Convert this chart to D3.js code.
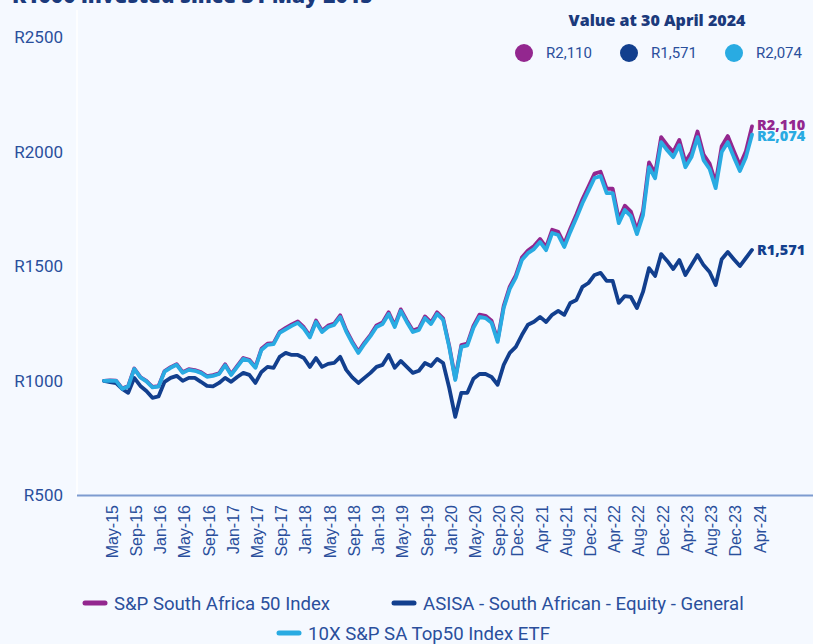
<!DOCTYPE html>
<html><head><meta charset="utf-8">
<script src="https://cdn.jsdelivr.net/npm/d3@7"></script>
<style>
html,body{margin:0;padding:0;background:#f5f9ff;}
svg{display:block;}
</style></head>
<body>
<svg id="chart" width="813" height="644"></svg>
<script>
// ---- data ----
const seriesNames = ["S&P South Africa 50 Index", "ASISA - South African - Equity - General", "10X S&P SA Top50 Index ETF"];
const seriesColors = ["#93278f", "#123f8e", "#29abe2"];
const finalLabels = ["R2,110", "R1,571", "R2,074"];
const startMonth = new Date(2015, 4, 1); // May 2015
const endMonth = new Date(2024, 3, 1);   // Apr 2024
const tickLabels = ["May-15","Sep-15","Jan-16","May-16","Sep-16","Jan-17","May-17","Sep-17","Jan-18","May-18","Sep-18","Jan-19","May-19","Sep-19","Jan-20","May-20","Sep-20","Dec-20","Apr-21","Aug-21","Dec-21","Apr-22","Aug-22","Dec-22","Apr-23","Aug-23","Dec-23","Apr-24"];
const yTicks = [500, 1000, 1500, 2000, 2500];

const sp50 = [1000,1002,1001,967,978,1054,1017,1000,974,977,
1043,1060,1073,1038,1051,1047,1038,1021,1025,1033,
1072,1029,1065,1100,1092,1061,1140,1162,1165,1214,
1231,1246,1259,1234,1196,1263,1219,1241,1250,1286,
1221,1171,1128,1167,1201,1242,1255,1299,1242,1312,
1264,1220,1229,1281,1255,1299,1273,1154,1010,1156,
1163,1240,1289,1284,1262,1178,1327,1411,1460,1538,
1569,1588,1619,1583,1659,1650,1598,1665,1726,1792,
1848,1904,1912,1838,1838,1706,1764,1738,1658,1742,
1953,1905,2063,2028,1998,2051,1955,1999,2088,1987,
1948,1864,2024,2068,2003,1941,2003,2110];

const asisa = [1000,995,990,965,948,1013,978,956,926,932,
996,1013,1022,1000,1013,1013,996,978,976,991,
1013,996,1017,1035,1026,991,1039,1061,1057,1105,
1122,1113,1113,1100,1061,1100,1061,1074,1078,1105,
1048,1015,991,1013,1035,1061,1070,1113,1057,1087,
1061,1035,1044,1078,1065,1096,1078,970,843,948,
948,1009,1030,1030,1017,983,1070,1122,1148,1200,
1245,1258,1279,1257,1288,1305,1288,1340,1353,1410,
1427,1462,1471,1436,1436,1340,1370,1366,1318,1388,
1492,1458,1553,1523,1488,1527,1462,1505,1549,1505,
1475,1418,1531,1562,1531,1501,1536,1571];

const etf = [1000,1001,1000,965,976,1052,1015,998,972,975,
1040,1057,1070,1035,1048,1044,1035,1018,1022,1030,
1068,1026,1061,1096,1088,1057,1135,1157,1160,1209,
1225,1240,1253,1228,1190,1257,1213,1235,1244,1279,
1215,1165,1122,1161,1195,1235,1248,1292,1235,1305,
1257,1213,1222,1274,1248,1292,1266,1148,1004,1148,
1155,1231,1279,1274,1253,1170,1318,1401,1450,1527,
1557,1575,1606,1570,1645,1636,1584,1650,1710,1775,
1830,1885,1893,1819,1819,1688,1745,1719,1640,1723,
1932,1884,2041,2006,1976,2028,1932,1976,2063,1963,
1924,1841,1998,2041,1976,1915,1976,2074];

// ---- build ----
const months = d3.timeMonth.range(startMonth, d3.timeMonth.offset(endMonth, 1));
const fmt = d3.timeFormat("%b-%y");
const cats = months.map(fmt);

const svg = d3.select("#chart");
const W = 813, H = 644;
svg.append("rect").attr("width", W).attr("height", H).attr("fill", "#f5f9ff");

const x = d3.scalePoint().domain(cats).range([104, 752]);
const y = d3.scaleLinear().domain([500, 2500]).range([495.5, 37]);

const darkText = "#1b3a7c";
const axisText = "#2a4f9c";

// Title (partially cut off at top)
svg.append("text").attr("x", 12).attr("y", 3)
  .attr("font-family", "'Open Sans', sans-serif").attr("font-weight", 800)
  .attr("font-size", 21).attr("fill", darkText)
  .text("R1000 invested since 31 May 2015");

// faint plot separator
svg.append("line").attr("x1", 77).attr("x2", 77).attr("y1", 10).attr("y2", 495)
  .attr("stroke", "#ffffff").attr("stroke-width", 1.5);

// Y axis labels
svg.append("g").selectAll("text").data(yTicks).join("text")
  .attr("x", 63).attr("y", d => y(d)).attr("dy", "0.35em")
  .attr("text-anchor", "end")
  .attr("font-family", "Roboto, sans-serif").attr("font-size", 17)
  .attr("fill", axisText)
  .text(d => "R" + d);

// X axis line
svg.append("line").attr("x1", 77).attr("x2", 813).attr("y1", 495.5).attr("y2", 495.5)
  .attr("stroke", "#7d9bd0").attr("stroke-width", 2);

// X tick labels (rotated)
svg.append("g").selectAll("text").data(tickLabels).join("text")
  .attr("transform", d => `translate(${x(d) + 8},505) rotate(-90)`)
  .attr("dy", "0.35em")
  .attr("text-anchor", "end")
  .attr("font-family", "'Liberation Sans', Arial, sans-serif").attr("font-size", 16)
  .attr("fill", axisText)
  .text(d => d);

// Lines
const allSeries = [sp50, asisa, etf];
const line = d3.line().x((d, i) => x(cats[i])).y(d => y(d)).curve(d3.curveLinear);
allSeries.forEach((s, k) => {
  svg.append("path").datum(s)
    .attr("d", line)
    .attr("fill", "none")
    .attr("stroke", seriesColors[k])
    .attr("stroke-width", 3.8)
    .attr("stroke-linejoin", "round")
    .attr("stroke-linecap", "round");
});

// End labels
const endOffsets = [-1, 0, 1];
allSeries.forEach((s, k) => {
  const last = s[s.length - 1];
  svg.append("text")
    .attr("x", x(cats[cats.length - 1]) + 5)
    .attr("y", y(last) + endOffsets[k])
    .attr("dy", "0.35em")
    .attr("font-family", "'Open Sans', sans-serif").attr("font-weight", 800)
    .attr("font-size", 14.5)
    .attr("fill", seriesColors[k])
    .text(finalLabels[k]);
});

// Top-right value legend
svg.append("text").attr("x", 657).attr("y", 20).attr("dy", "0.35em")
  .attr("text-anchor", "middle")
  .attr("font-family", "'Open Sans', sans-serif").attr("font-weight", 800)
  .attr("font-size", 16).attr("fill", darkText)
  .text("Value at 30 April 2024");
const valX = [524, 629, 734];
const vg = svg.append("g");
finalLabels.forEach((t, k) => {
  vg.append("circle").attr("cx", valX[k]).attr("cy", 53).attr("r", 9).attr("fill", seriesColors[k]);
  vg.append("text").attr("x", valX[k] + 22).attr("y", 53).attr("dy", "0.35em")
    .attr("font-family", "Roboto, sans-serif").attr("font-size", 15)
    .attr("fill", axisText).text(t);
});

// Bottom legend
const legendPos = [[83, 603], [392, 603], [277, 633]];
seriesNames.forEach((n, k) => {
  const [lx, ly] = legendPos[k];
  svg.append("line").attr("x1", lx + 2).attr("x2", lx + 22).attr("y1", ly).attr("y2", ly)
    .attr("stroke", seriesColors[k]).attr("stroke-width", 5).attr("stroke-linecap", "round");
  svg.append("text").attr("x", lx + 31).attr("y", ly).attr("dy", "0.35em")
    .attr("font-family", "Roboto, sans-serif").attr("font-size", 18.6)
    .attr("fill", axisText).text(n);
});
</script>
</body></html>
